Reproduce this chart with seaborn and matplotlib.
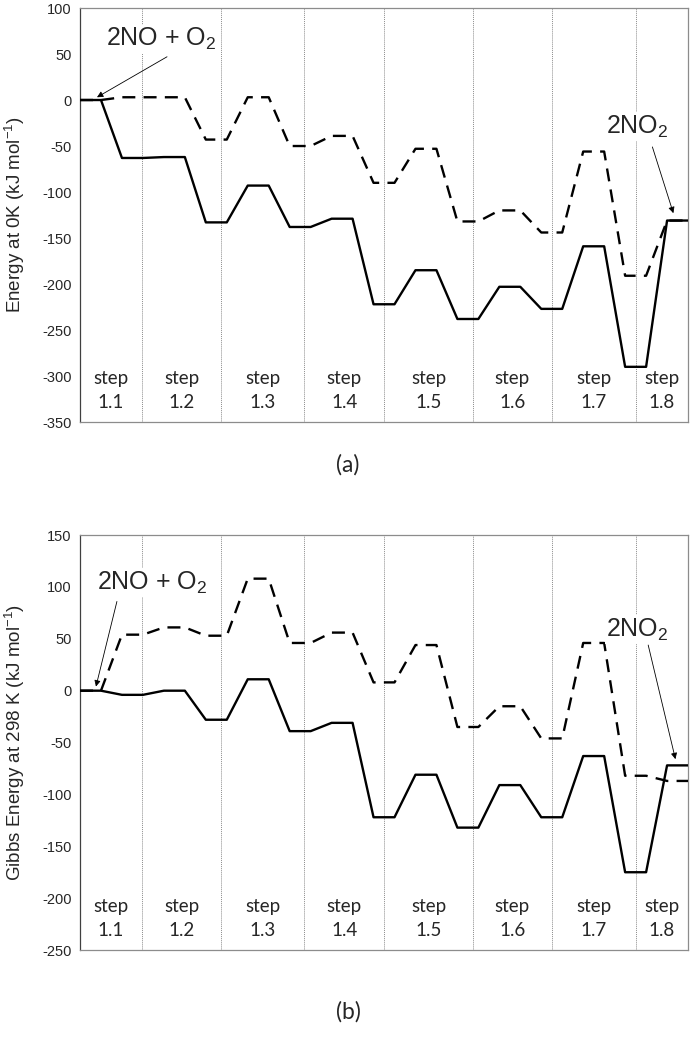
import numpy as np
import pandas as pd
import seaborn as sns
import matplotlib.pyplot as plt

# energy levels in kJ/mol, in order: R, I1, TS2, I2, TS3, I3, TS4, I4, TS5, I5, TS6, I6, TS7, I7, P
e0_solid = [0, -63, -62, -133, -93, -138, -129, -222, -185, -238, -203, -227, -159, -290, -131]
e0_dashed = [0, 3, 3, -43, 3, -50, -39, -90, -53, -132, -120, -144, -56, -191, -131]
g298_solid = [0, -4, 0, -28, 11, -39, -31, -122, -81, -132, -91, -122, -63, -175, -72]
g298_dashed = [0, 54, 61, 53, 108, 46, 56, 8, 44, -35, -15, -46, 46, -82, -87]

step_names = ['1.1', '1.2', '1.3', '1.4', '1.5', '1.6', '1.7', '1.8']
step_edges = [2.95, 6.73, 10.70, 14.51, 18.73, 22.51, 26.52]

sns.set_style('white')
plt.rcParams['font.family'] = ['Liberation Sans', 'DejaVu Sans']
plt.rcParams['axes.unicode_minus'] = False
plt.rcParams['mathtext.fontset'] = 'custom'
plt.rcParams['mathtext.rm'] = 'Liberation Sans'
plt.rcParams['mathtext.it'] = 'Liberation Sans:italic'


def profile(solid, dashed):
    # every level is a short flat segment: two points per level
    rows = []
    for name, levels in [('solid', solid), ('dashed', dashed)]:
        for i, e in enumerate(np.repeat(levels, 2)):
            rows.append({'pos': i, 'energy': e, 'path': name})
    return pd.DataFrame(rows)


def draw_panel(ax, solid, dashed, ylim, ylabel, left_txt, left_arrow, right_txt, right_arrow):
    df = profile(solid, dashed)
    for x in step_edges:
        ax.axvline(x, color='#8c8c8c', lw=0.7, ls=(0, (1, 1)), zorder=1)
    sns.lineplot(data=df, x='pos', y='energy', style='path', style_order=['solid', 'dashed'],
                 dashes={'solid': '', 'dashed': (5.5, 3.5)}, color='black', lw=1.7,
                 sort=False, estimator=None, legend=False, ax=ax, zorder=3)
    ax.set_xlim(0, 29)
    ax.set_ylim(*ylim)
    ax.set_xticks([])
    ax.set_yticks(range(ylim[0], ylim[1] + 1, 50))
    ax.tick_params(axis='y', length=0, labelsize=10.5, pad=6, labelcolor='#262626')
    ax.set_xlabel('')
    ax.set_ylabel(ylabel, fontsize=13.5, color='#262626')
    ax.yaxis.set_label_coords(-0.088, 0.5)
    for s in ax.spines.values():
        s.set_color('#8c8c8c')
        s.set_linewidth(0.9)
    ax.spines['left'].set_color('#404040')

    edges = [0] + step_edges + [29]
    for k, name in enumerate(step_names):
        xc = (edges[k] + edges[k + 1]) / 2
        ax.text(xc, 0.104, 'step', transform=ax.get_xaxis_transform(), ha='center', va='center',
                fontsize=13.5, family='Lato')
        ax.text(xc, 0.046, name, transform=ax.get_xaxis_transform(), ha='center', va='center',
                fontsize=13.5, family='Lato')

    arrow = dict(arrowstyle='-|>', lw=0.6, color='black', mutation_scale=9, shrinkA=0, shrinkB=0)
    for txt, (tx, ty, ax0, ay0, ax1, ay1) in [(left_txt, left_arrow), (right_txt, right_arrow)]:
        ax.text(tx, ty, txt, ha='center', va='center', fontsize=18, zorder=5,
                bbox=dict(facecolor='white', edgecolor='none', pad=1))
        ax.annotate('', xy=(ax1, ay1), xytext=(ax0, ay0), arrowprops=arrow, zorder=6)


fig = plt.figure(figsize=(6.91, 10.4), dpi=100)
ax1 = fig.add_axes([0.1158, 0.5942, 0.8799, 0.3981])
ax2 = fig.add_axes([0.1158, 0.0865, 0.8799, 0.399])

draw_panel(ax1, e0_solid, e0_dashed, (-350, 100), 'Energy at 0K (kJ mol$^{-1}$)',
           '2NO + O$_2$', (3.85, 66, 4.15, 47, 0.81, 3),
           '2NO$_2$', (26.6, -29, 27.3, -51, 28.3, -123))
draw_panel(ax2, g298_solid, g298_dashed, (-250, 150), 'Gibbs Energy at 298 K (kJ mol$^{-1}$)',
           '2NO + O$_2$', (3.45, 104, 1.76, 86, 0.76, 4),
           '2NO$_2$', (26.6, 59, 27.1, 44, 28.4, -66))

fig.text(348 / 691, 1 - 465 / 1040, '(a)', ha='center', va='center', fontsize=16.5, family='Lato')
fig.text(348 / 691, 1 - 1012 / 1040, '(b)', ha='center', va='center', fontsize=16.5, family='Lato')

fig.savefig('out.png', dpi=100)
